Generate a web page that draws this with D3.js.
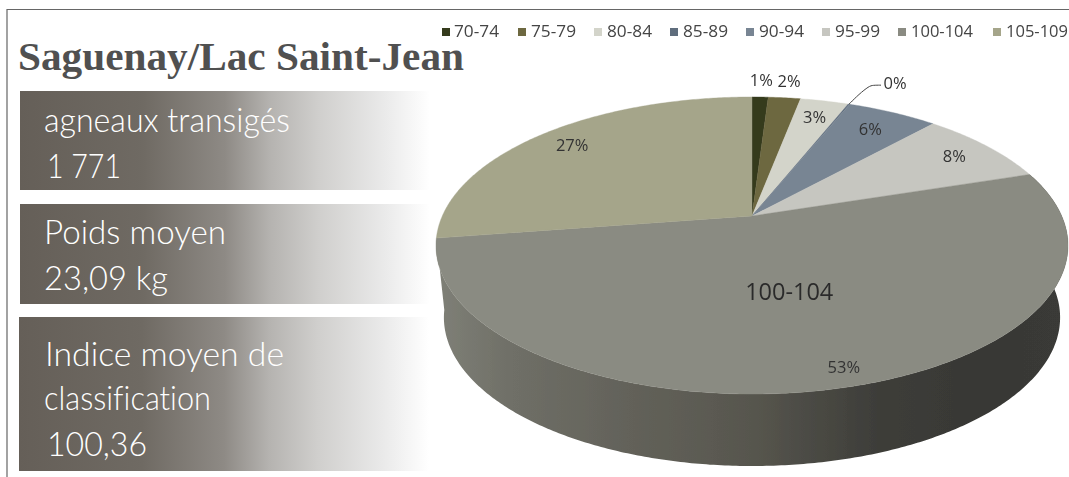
<!DOCTYPE html>
<html><head><meta charset="utf-8">
<script src="https://cdn.jsdelivr.net/npm/d3@7/dist/d3.min.js"></script>
<style>html,body{margin:0;padding:0;background:#fff;overflow:hidden}svg{display:block}</style>
</head><body><svg id="c" width="1069" height="477"></svg>
<script>
const categories = ["70-74","75-79","80-84","85-89","90-94","95-99","100-104","105-109"];
const shares = [1,2,3,0.1,5.6,8.3,52.6,27.4];
const shareLabels = ["1%","2%","3%","0%","6%","8%","53%","27%"];
const colors = ["#353a1e","#6d6840","#d3d4ca","#5f6d7d","#788593","#c6c6c0","#8a8b82","#a5a58a"];
const panelLines = [["agneaux transigés","1 771"],["Poids moyen","23,09 kg"],["Indice moyen de","classification","100,36"]];
const titleText = "Saguenay/Lac Saint-Jean";

const svg = d3.select("#c");
const defs = svg.append("defs");
const pg = defs.append("linearGradient").attr("id","panel");
[[0,"#655f58"],[.3,"#6f6a63"],[.5,"#8e8a85"],[.61,"#b5b3b0"],[.73,"#d0cfcd"],[.89,"#eaeaea"],[1,"#ffffff"]]
  .forEach(s=>pg.append("stop").attr("offset",s[0]).attr("stop-color",s[1]));
const sg = defs.append("linearGradient").attr("id","side").attr("gradientUnits","userSpaceOnUse")
  .attr("x1",436).attr("x2",1068).attr("y1",0).attr("y2",0);
[[0,"#7f8077"],[.12,"#6f6f67"],[.3,"#63625a"],[.5,"#57564e"],[.7,"#3d3d39"],[.85,"#383835"],[1,"#3a3a37"]]
  .forEach(s=>sg.append("stop").attr("offset",s[0]).attr("stop-color",s[1]));
const blur=(id,s)=>defs.append("filter").attr("id",id).attr("x","-2%").attr("y","-2%").attr("width","104%").attr("height","104%")
  .append("feGaussianBlur").attr("stdDeviation",s);
blur("soft",0.6); blur("softer",0.35);

// frame
svg.append("path").attr("d","M7,477V9.5H1069").attr("fill","none").attr("stroke","#666").attr("stroke-width",1.2);

// panels
const panelBoxes = [
  {x:20,y:91,h:99,base:[132,178],w:[246,74],tx:[44,47]},
  {x:20,y:204,h:100,base:[244,290],w:[182,124],tx:[44,44]},
  {x:19,y:317,h:154,base:[366,410,456],w:[239,167,100],tx:[45,44,47]}];
panelBoxes.forEach((b,i)=>{
  svg.append("rect").attr("x",b.x).attr("y",b.y).attr("width",410).attr("height",b.h).attr("fill","url(#panel)");
  panelLines[i].forEach((t,j)=>svg.append("text").attr("x",b.tx[j]).attr("y",b.base[j])
    .attr("font-family","Lato").attr("font-weight",300).attr("font-size",33).attr("fill","#fff")
    .style("font-variant-ligatures","none")
    .attr("textLength",b.w[j]).attr("lengthAdjust","spacingAndGlyphs").text(t));
});

// pie projection (perspective disc)
const cx=752, apexY=216, K=309.7, persp=-0.1987, A=99.73, depth=72;
const proj=(u,v,dy=0,sx=1)=>{const w=1+persp*v;return [cx+sx*K*u/w, (A*v+apexY)/w+dy];};
const pie=d3.pie().sort(null).value(d=>d)(shares);
const rim=(a0,a1,r=1,dy=0,sx=1)=>{
  const n=Math.max(2,Math.ceil((a1-a0)/0.01));
  return d3.range(n+1).map(i=>{const a=a0+(a1-a0)*i/n;return proj(r*Math.sin(a),-r*Math.cos(a),dy,sx);});
};
const line=d3.line();
const chart=svg.append("g").attr("filter","url(#soft)");

// side wall: rim of the large slice extruded, as one strip of small quads
const wallTop=rim(pie[6].startAngle,pie[6].endAngle);
const wallBot=rim(pie[6].startAngle,pie[6].endAngle,1,depth,0.975);
chart.append("path").attr("fill","url(#side)")
  .attr("d",d3.range(wallTop.length-1).map(i=>line([wallTop[i],wallTop[i+1],wallBot[i+1],wallBot[i]])+"Z").join(""));

// top faces
chart.selectAll("path.slice").data(pie).join("path").attr("class","slice")
  .attr("d",d=>line([proj(0,0)].concat(rim(d.startAngle,d.endAngle)))+"Z")
  .attr("fill",(d,i)=>colors[i]).attr("stroke",(d,i)=>colors[i]).attr("stroke-width",.4);

// leader for the 0% label
const z=pie[3]; const zm=(z.startAngle+z.endAngle)/2;
const zp=proj(Math.sin(zm),-Math.cos(zm));
svg.append("path").attr("d",d3.line().curve(d3.curveBasis)([zp,[zp[0]+10,zp[1]-10],[zp[0]+20,zp[1]-18],[zp[0]+24,zp[1]-19],[zp[0]+32,zp[1]-19]]))
  .attr("fill","none").attr("stroke","#444").attr("stroke-width",1).attr("filter","url(#softer)");

// data labels
const labelPlace=[{r:1.176},{r:1.18},{r:.84},{abs:[46,-21]},{r:.82},{r:.85},{r:.91,da:-.04},{r:.85}];
const g=svg.append("g").attr("font-family","'Open Sans'").attr("fill","#333").attr("filter","url(#softer)");
pie.forEach((d,i)=>{
  const m=(d.startAngle+d.endAngle)/2+(labelPlace[i].da||0), r=labelPlace[i].r;
  const p=labelPlace[i].abs ? [zp[0]+labelPlace[i].abs[0],zp[1]+labelPlace[i].abs[1]]
                            : proj(r*Math.sin(m),-r*Math.cos(m));
  g.append("text").attr("x",p[0]).attr("y",p[1]+6).attr("text-anchor","middle").attr("font-size",16.5).text(shareLabels[i]);
});
const m6=(pie[6].startAngle+pie[6].endAngle)/2;
const p6=proj(.497*Math.sin(m6),-.497*Math.cos(m6));
g.append("text").attr("x",p6[0]-2).attr("y",p6[1]+8).attr("text-anchor","middle").attr("font-size",23.5).attr("fill","#2b2b2b").text(categories[6]);

// legend
const lg=svg.append("g").attr("filter","url(#softer)");
let lx=442;
categories.forEach((c,i)=>{
  lg.append("rect").attr("x",lx).attr("y",28).attr("width",8).attr("height",8).attr("fill",colors[i]);
  lg.append("text").attr("x",lx+(i==0?12:13)).attr("y",37).attr("font-family","'Open Sans'").attr("font-size",16).attr("fill","#444")
    .attr("textLength",c.length>5?62:45).attr("lengthAdjust","spacingAndGlyphs").text(c);
  lx+= i==0?76:(c.length>5?95:76);
});

// title
svg.append("text").attr("x",18).attr("y",70).attr("font-family","'Liberation Serif'").attr("font-weight",700)
  .attr("font-size",40).attr("fill","#505050").attr("textLength",446).attr("lengthAdjust","spacingAndGlyphs").text(titleText);
</script></body></html>
